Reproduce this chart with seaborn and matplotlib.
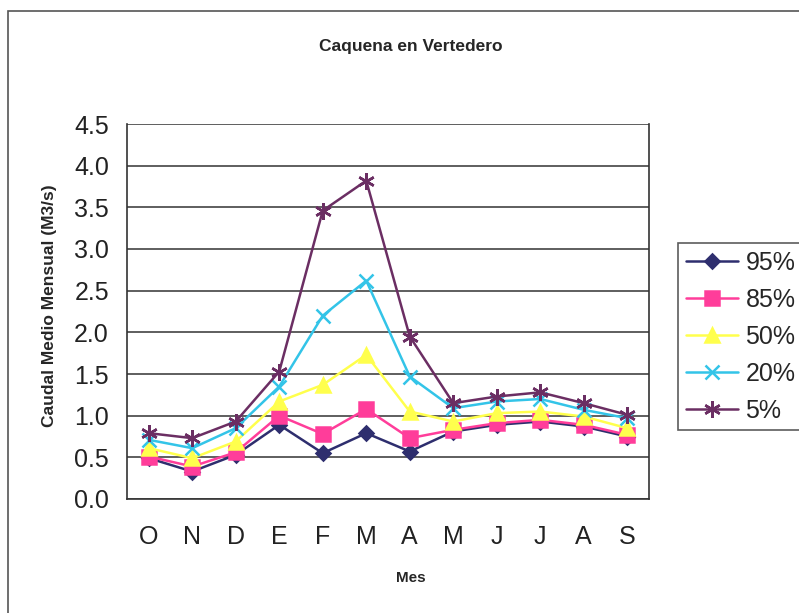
import matplotlib
matplotlib.use("Agg")
import matplotlib.pyplot as plt
import matplotlib.patches as mpatches
import numpy as np
import pandas as pd
import seaborn as sns

meses = ["O", "N", "D", "E", "F", "M", "A", "M", "J", "J", "A", "S"]
q95 = [0.49, 0.33, 0.53, 0.89, 0.55, 0.79, 0.57, 0.81, 0.89, 0.93, 0.87, 0.75]
q85 = [0.51, 0.39, 0.56, 1.00, 0.78, 1.08, 0.73, 0.83, 0.91, 0.95, 0.89, 0.77]
q50 = [0.61, 0.49, 0.69, 1.17, 1.37, 1.73, 1.05, 0.93, 1.03, 1.05, 0.99, 0.85]
q20 = [0.71, 0.61, 0.85, 1.35, 2.20, 2.62, 1.47, 1.09, 1.17, 1.20, 1.07, 0.97]
q05 = [0.79, 0.73, 0.93, 1.53, 3.46, 3.82, 1.95, 1.15, 1.23, 1.28, 1.15, 1.01]

series = {"95%": q95, "85%": q85, "50%": q50, "20%": q20, "5%": q05}
colors = {"95%": "#2e2e6e", "85%": "#ff3d9a", "50%": "#ffff4d",
          "20%": "#33c4e8", "5%": "#6b2e63"}
markers = {"95%": "D", "85%": "s", "50%": "^", "20%": "x", "5%": (6, 2, 0)}
msizes = {"95%": 7, "85%": 10, "50%": 10, "20%": 10, "5%": 12}

df = pd.DataFrame({
    "pos": np.tile(np.arange(len(meses)), len(series)),
    "valor": np.concatenate([series[k] for k in series]),
    "serie": np.repeat(list(series.keys()), len(meses)),
})

sns.set_theme(style="white")
plt.rcParams["font.family"] = ["Liberation Sans", "DejaVu Sans"]

fig = plt.figure(figsize=(7.99, 6.13), dpi=100)
ax = fig.add_axes([127 / 799, 1 - 499 / 613, (649 - 127) / 799, (499 - 124) / 613])

# outer chart frame
fig.patches.append(mpatches.Rectangle((8 / 799, -0.1), 1.2, 1 - 11 / 613 + 0.1,
                                      transform=fig.transFigure, fill=False,
                                      edgecolor="#555555", linewidth=1.2))

for name in series:
    sub = df[df["serie"] == name]
    sns.lineplot(data=sub, x="pos", y="valor", ax=ax, color=colors[name],
                 marker=markers[name], markersize=msizes[name],
                 markeredgecolor=colors[name], markeredgewidth=1.8,
                 linewidth=1.8, label=name)

ax.set_xlim(-0.5, len(meses) - 0.5)
ax.set_ylim(0, 4.5)
ax.set_yticks(np.arange(0, 4.51, 0.5))
ax.set_yticklabels([f"{v:.1f}" for v in np.arange(0, 4.51, 0.5)], fontsize=18)
ax.set_xticks(np.arange(len(meses)))
ax.set_xticklabels(meses, fontsize=18)
ax.set_xticks(np.arange(-0.5, len(meses), 1), minor=True)
ax.tick_params(axis="x", which="major", length=0, pad=19)
ax.tick_params(axis="x", which="minor", length=5, width=1.2, color="#222222", direction="out")
ax.tick_params(axis="y", length=5, width=1.2, color="#222222", direction="out", pad=8)
ax.tick_params(colors="#222222")
ax.grid(axis="y", color="#333333", linewidth=1.1)
ax.grid(axis="x", visible=False)
for side in ["left", "bottom", "top", "right"]:
    ax.spines[side].set_color("#333333")
    ax.spines[side].set_linewidth(1.2)
ax.spines["top"].set_visible(False)

ax.set_xlabel("")
ax.set_ylabel("")
fig.text(411 / 799, 1 - 578 / 613, "Mes", fontsize=11, fontweight="bold",
         ha="center", va="center")
fig.text(50 / 799, 1 - 306 / 613, "Caudal Medio Mensual (M3/s)", fontsize=12.5,
         fontweight="bold", rotation=90, ha="center", va="center")
fig.text(411 / 799, 1 - 47 / 613, "Caquena en Vertedero", fontsize=12.5,
         fontweight="bold", ha="center", va="center")

leg = ax.legend(loc="upper left", bbox_to_anchor=(678 / 799, 1 - 243 / 613),
                bbox_transform=fig.transFigure, fontsize=18, frameon=True,
                fancybox=False, edgecolor="#333333", handlelength=2.1,
                handletextpad=0.3, labelspacing=0.52, borderpad=0.3,
                borderaxespad=0)
leg.get_frame().set_linewidth(1.2)

fig.savefig("out.png", dpi=100)
